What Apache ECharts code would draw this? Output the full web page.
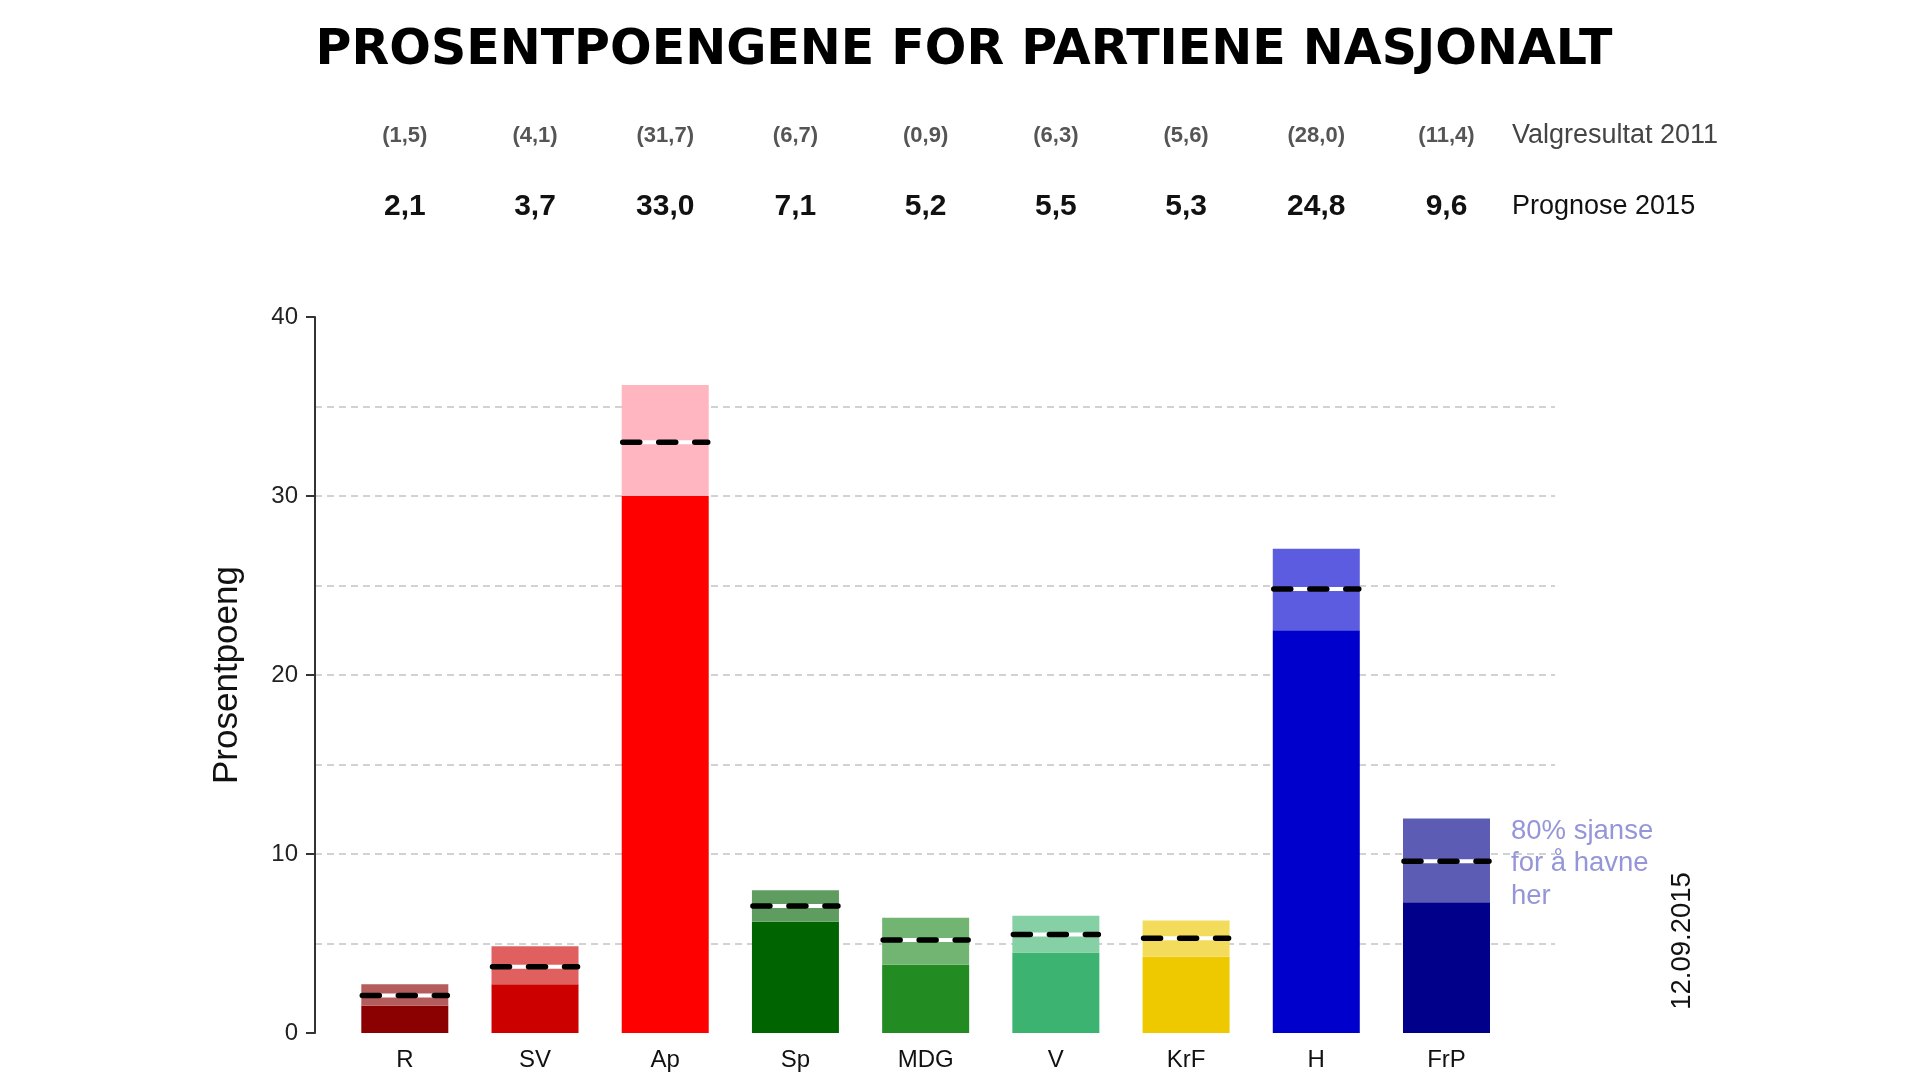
<!DOCTYPE html>
<html>
<head>
<meta charset="utf-8">
<script src="https://cdn.jsdelivr.net/npm/echarts@6/dist/echarts.min.js"></script>
<style>html,body{margin:0;padding:0;background:#fff;}#c{width:1920px;height:1080px;}</style>
</head>
<body>
<div id="c"></div>
<script>
const parties = ['R', 'SV', 'Ap', 'Sp', 'MDG', 'V', 'KrF', 'H', 'FrP'];
const valg2011 = [1.5, 4.1, 31.7, 6.7, 0.9, 6.3, 5.6, 28.0, 11.4];
const prognose2015 = [2.1, 3.7, 33.0, 7.1, 5.2, 5.5, 5.3, 24.8, 9.6];
const lowVals = [1.52, 2.72, 30.0, 6.22, 3.81, 4.5, 4.26, 22.5, 7.3];
const highVals = [2.72, 4.84, 36.2, 7.98, 6.44, 6.55, 6.29, 27.06, 11.99];
const darkColors = ['#8B0000', '#CD0000', '#FF0000', '#006400', '#228B22', '#3CB371', '#EEC900', '#0000CD', '#00008B'];
const lightColors = ['#b55c5c', '#e06060', '#FFB6C1', '#5f9c5f', '#72b472', '#85d0a5', '#f3dc5c', '#5c5ce0', '#5c5cb5'];
const yTicks = [0, 10, 20, 30, 40];

const fmt = v => v.toFixed(1).replace('.', ',');
const FONT = 'Liberation Sans, Arial, sans-serif';

const chart = echarts.init(document.getElementById('c'), null, {renderer: 'canvas'});

const grid0 = {left: 315, right: 365, top: 317, bottom: 47};
const grid1 = {left: 339.7, right: 408.4, top: 317, bottom: 47};

const option = {
  backgroundColor: '#ffffff',
  animation: false,
  grid: [grid0, grid1],
  xAxis: [
    {type: 'value', gridIndex: 0, show: false, min: 0, max: 1},
    {type: 'category', gridIndex: 1, data: parties, boundaryGap: true,
      axisLine: {show: false}, axisTick: {show: false},
      axisLabel: {color: '#111', fontSize: 24, fontFamily: FONT, margin: 15}},
    {type: 'category', gridIndex: 1, data: parties, position: 'top', offset: 181,
      axisLine: {show: false}, axisTick: {show: false},
      axisLabel: {color: '#555', fontSize: 22, fontWeight: 'bold', fontFamily: FONT, margin: 0, verticalAlign: 'middle',
        formatter: (v, i) => '(' + fmt(valg2011[i]) + ')'}},
    {type: 'category', gridIndex: 1, data: parties, position: 'top', offset: 110,
      axisLine: {show: false}, axisTick: {show: false},
      axisLabel: {color: '#111', fontSize: 30, fontWeight: 'bold', fontFamily: FONT, margin: 0, verticalAlign: 'middle',
        formatter: (v, i) => fmt(prognose2015[i])}}
  ],
  yAxis: [
    {type: 'value', gridIndex: 0, min: yTicks[0], max: yTicks[yTicks.length - 1], interval: 10,
      name: 'Prosentpoeng', nameLocation: 'middle', nameGap: 70, nameRotate: 90,
      nameTextStyle: {fontSize: 35, color: '#111', fontFamily: FONT},
      axisLine: {show: true, lineStyle: {color: '#333', width: 2}},
      axisTick: {show: true, length: 9, lineStyle: {color: '#333', width: 2}},
      axisLabel: {color: '#222', fontSize: 24, fontFamily: FONT, margin: 17},
      splitLine: {show: false}},
    {type: 'value', gridIndex: 0, min: 0, max: 40, interval: 5, position: 'left',
      axisLine: {show: false}, axisTick: {show: false}, axisLabel: {show: false},
      splitLine: {show: true, showMinLine: false, showMaxLine: false,
        lineStyle: {color: '#c4c4c4', width: 1.5, type: [7, 5]}}},
    {type: 'value', gridIndex: 1, min: 0, max: 40, show: false}
  ],
  series: [
    {type: 'bar', xAxisIndex: 1, yAxisIndex: 2, stack: 'b', barWidth: 87,
      data: lowVals.map((v, i) => ({value: v, itemStyle: {color: darkColors[i]}}))},
    {type: 'bar', xAxisIndex: 1, yAxisIndex: 2, stack: 'b', barWidth: 87,
      data: highVals.map((v, i) => ({value: +(v - lowVals[i]).toFixed(3), itemStyle: {color: lightColors[i]}}))},
    {type: 'custom', xAxisIndex: 1, yAxisIndex: 2, z: 10,
      data: prognose2015.map((v, i) => [i, v]),
      encode: {x: 0, y: 1},
      renderItem: function (params, api) {
        const p = api.coord([api.value(0), api.value(1)]);
        const half = 45;
        return {
          type: 'group',
          children: [
            {type: 'line', shape: {x1: p[0] - half + 2, y1: p[1], x2: p[0] + half - 2, y2: p[1]},
              style: {stroke: '#ffffff', lineWidth: 4}},
            {type: 'line', shape: {x1: p[0] - half + 2.5, y1: p[1], x2: p[0] + half - 2.5, y2: p[1]},
              style: {stroke: '#000000', lineWidth: 5.5, lineDash: [17, 19], lineCap: 'round'}}
          ]
        };
      }}
  ],
  graphic: [
    {type: 'text', x: 964, y: 51, style: {text: 'PROSENTPOENGENE FOR PARTIENE NASJONALT', fill: '#000',
      font: 'bold 49px "DejaVu Sans", sans-serif', textAlign: 'center', textVerticalAlign: 'middle'}},
    {type: 'text', x: 1512, y: 136, style: {text: 'Valgresultat 2011', fill: '#444',
      font: '27px ' + FONT, textAlign: 'left', textVerticalAlign: 'middle'}},
    {type: 'text', x: 1512, y: 207, style: {text: 'Prognose 2015', fill: '#111',
      font: '27px ' + FONT, textAlign: 'left', textVerticalAlign: 'middle'}},
    {type: 'text', x: 1511, y: 815, style: {text: '80% sjanse\nfor å havne\nher', fill: '#9595d9',
      font: '27.5px ' + FONT, lineHeight: 32.5, textAlign: 'left', textVerticalAlign: 'top'}},
    {type: 'text', x: 1682, y: 941, rotation: Math.PI / 2, style: {text: '12.09.2015', fill: '#111',
      font: '27.5px ' + FONT, textAlign: 'center', textVerticalAlign: 'middle'}}
  ]
};
chart.setOption(option);
</script>
</body>
</html>
